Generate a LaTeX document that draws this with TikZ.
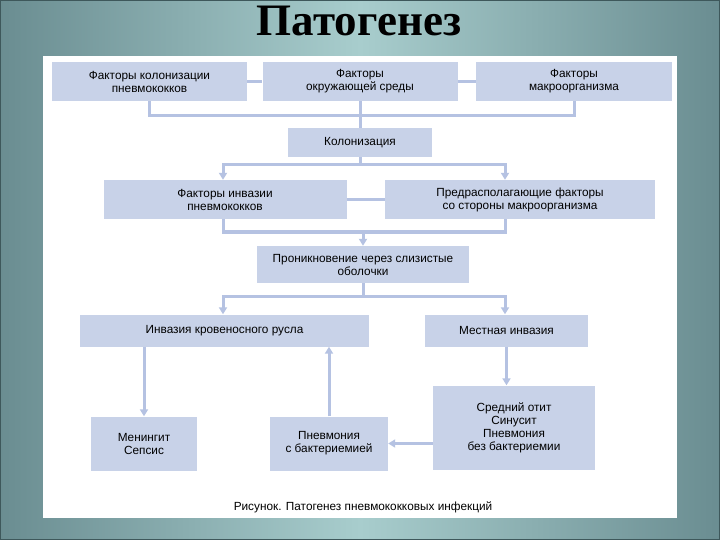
\documentclass[tikz,border=0pt]{standalone}
\usepackage{fontspec}
\setmainfont{Liberation Sans}
\newfontfamily\titlefont{Liberation Serif}
\usetikzlibrary{arrows.meta, positioning, calc}

\definecolor{boxfill}{HTML}{C8D2E8}
\definecolor{linkcol}{HTML}{B5C2E2}
\definecolor{slideedge}{HTML}{6A8D91}
\definecolor{slidemid}{HTML}{A8CDCD}
\definecolor{slidedark}{HTML}{3E585B}

\begin{document}
\begin{tikzpicture}[x=1pt, y=1pt, font=\fontsize{11.8}{13}\selectfont,
  bx/.style={fill=boxfill, align=center, inner sep=2pt},
  ln/.style={linkcol, line width=3pt},
  arr/.style={ln, -{Triangle[length=7pt, width=8pt]}},
  arrs/.style={ln, {Triangle[length=7pt, width=8pt]}-{Triangle[length=7pt, width=8pt]}}
]
\useasboundingbox (0,0) rectangle (720,-540);
% slide background
\shade[left color=slideedge, right color=slideedge, middle color=slidemid] (0,0) rectangle (720,-540);
\draw[slidedark, line width=2pt] (0,0) rectangle (720,-540);
\fill[white] (43,-56) rectangle (677,-518);

\node[font=\titlefont\bfseries\fontsize{45}{50}\selectfont] (title) at (359,-21) {Патогенез};

% column positions of the links
\coordinate (cl) at (223,0);
\coordinate (cr) at (505,0);
\coordinate (k0) at (0,-116);
\coordinate (k1) at (0,-165);
\coordinate (k2) at (0,-232);
\coordinate (k3) at (0,-296);

\node[bx, minimum width=195, minimum height=39] (b1) at (149.5,-81.5) {Факторы колонизации\\пневмококков};
\node[bx, minimum width=195, minimum height=39] (b2) at (360,-81.5) {Факторы\\окружающей среды};
\node[bx, minimum width=196, minimum height=39] (b3) at (574,-81.5) {Факторы\\макроорганизма};
\node[bx, minimum width=144, minimum height=29] (kol) at (360,-142.5) {Колонизация};
\node[bx, minimum width=243, minimum height=39] (b4) at (225,-199.5) {Факторы инвазии\\пневмококков};
\node[bx, minimum width=270, minimum height=39] (b5) at (520,-199.5) {Предрасполагающие факторы\\со стороны макроорганизма};
\node[bx, minimum width=212, minimum height=37] (pron) at (363,-264.5) {Проникновение через слизистые\\оболочки};
\node[bx, minimum width=289, minimum height=32] (b7) at (224.5,-330.5) {Инвазия кровеносного русла};
\node[bx, minimum width=163, minimum height=32] (b8) at (506.5,-330.5) {Местная инвазия};
\node[bx, minimum width=106, minimum height=54] (men) at (144,-443.5) {Менингит\\Сепсис};
\node[bx, minimum width=118, minimum height=54] (pnb) at (329,-443.5) {Пневмония\\с бактериемией};
\node[bx, minimum width=162, minimum height=84] (sred) at (514,-427.5) {Средний отит\\Синусит\\Пневмония\\без бактериемии};

\node (cap) at (363,-507) {Рисунок. Патогенез пневмококковых инфекций};

% links
\draw[ln] (b1.east) -- (b2.west);
\draw[ln] (b2.east) -- (b3.west);
\draw[ln] (b1.south) -- (b1.south |- k0) -- (b3.south |- k0) -- (b3.south);
\draw[ln] (b2.south) -- (kol.north);
\draw[ln] (kol.south) -- (kol.south |- k1);
\draw[arrs] (b4.north -| cl) |- (k1 -| cr) -- (b5.north -| cr);
\draw[ln] (b4.east) -- (b5.west);
\draw[ln] (b4.south -| cl) |- (k2 -| cr) -- (b5.south -| cr);
\draw[arr] (k2 -| pron) -- (pron.north);
\draw[ln] (pron.south) -- (pron.south |- k3);
\draw[arrs] (b7.north -| cl) |- (k3 -| cr) -- (b8.north -| cr);
\draw[arr] (b7.south -| men) -- (men.north);
\draw[arr] (pnb.north) -- (pnb.north |- b7.south);
\draw[arr] (b8.south) -- (b8.south |- sred.north);
\draw[arr] (sred.west |- pnb.east) -- (pnb.east);
\end{tikzpicture}
\end{document}
